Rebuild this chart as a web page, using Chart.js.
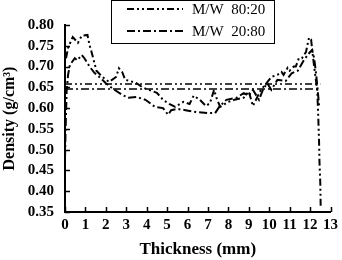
<!DOCTYPE html>
<html>
<head>
    <title>Density profile</title>
    <script src="https://cdn.jsdelivr.net/npm/chart.js"></script>
    <style>
        html, body { margin: 0; padding: 0; background: #fff; }
        #wrap { width: 342px; height: 260px; }
    </style>
</head>
<body>
    <div id="wrap"><canvas id="densityChart"></canvas></div>

    <script>
        // thickness (mm) / density (g/cm3)
        const thick8020 = [0.05, 0.15, 0.38, 0.63, 0.82, 1.1, 1.2, 1.3, 1.54, 1.83, 2.16, 2.5, 2.64, 2.8, 2.95, 3.2, 3.5, 3.8, 4.1, 4.5, 4.8, 5.1, 5.4, 5.8, 6.1, 6.3, 6.6, 6.9, 7.1, 7.3, 7.45, 7.6, 8.0, 8.3, 8.75, 9.0, 9.2, 9.4, 9.6, 9.8, 10.1, 10.4, 10.6, 10.7, 10.9, 11.0, 11.2, 11.3, 11.45, 11.6, 11.8, 11.95, 12.05, 12.15, 12.25, 12.35, 12.4, 12.44, 12.46, 12.5, 12.52];
        const dens8020 = [0.72, 0.745, 0.771, 0.757, 0.774, 0.776, 0.752, 0.735, 0.69, 0.675, 0.663, 0.675, 0.696, 0.687, 0.668, 0.665, 0.66, 0.65, 0.644, 0.637, 0.62, 0.61, 0.603, 0.615, 0.61, 0.63, 0.62, 0.605, 0.612, 0.644, 0.62, 0.603, 0.615, 0.62, 0.625, 0.64, 0.605, 0.625, 0.645, 0.656, 0.675, 0.68, 0.687, 0.68, 0.697, 0.69, 0.70, 0.70, 0.72, 0.72, 0.735, 0.77, 0.765, 0.72, 0.68, 0.645, 0.58, 0.52, 0.47, 0.42, 0.36];

        const thick2080 = [0.0, 0.03, 0.08, 0.15, 0.24, 0.48, 0.6, 0.82, 0.95, 1.2, 1.44, 1.68, 2.0, 2.3, 2.8, 3.1, 3.5, 3.94, 4.4, 4.8, 5.05, 5.2, 5.5, 5.9, 6.5, 7.1, 7.35, 7.55, 7.9, 8.4, 8.75, 9.0, 9.2, 9.5, 9.7, 9.9, 10.1, 10.4, 10.8, 11.1, 11.4, 11.7, 11.95, 12.1, 12.2, 12.3, 12.38, 12.45];
        const dens2080 = [0.48, 0.55, 0.64, 0.68, 0.704, 0.72, 0.715, 0.728, 0.72, 0.70, 0.685, 0.675, 0.66, 0.648, 0.632, 0.625, 0.627, 0.62, 0.603, 0.60, 0.584, 0.595, 0.598, 0.595, 0.59, 0.588, 0.588, 0.603, 0.62, 0.625, 0.636, 0.63, 0.644, 0.62, 0.645, 0.66, 0.644, 0.668, 0.665, 0.684, 0.69, 0.716, 0.732, 0.74, 0.72, 0.68, 0.64, 0.60];

        // mean density lines
        const avgRange = [0, 12.5];
        const avg8020 = 0.658;
        const avg2080 = 0.646;

        const seriesNames = ['M/W  80:20', 'M/W  20:80'];
        const dash8020 = [7, 3, 2, 3, 2, 3];
        const dash2080 = [8, 3, 2, 3];

        const toPoints = (xs, ys) => xs.map((x, i) => ({ x: x, y: ys[i] }));

        // inward tick marks, like the original plot
        const innerTicks = {
            id: 'innerTicks',
            afterDraw(chart) {
                const ctx = chart.ctx;
                const xs = chart.scales.x, ys = chart.scales.y;
                const area = chart.chartArea;
                ctx.save();
                ctx.strokeStyle = '#000';
                ctx.lineWidth = 1.5;
                ctx.beginPath();
                xs.ticks.forEach(t => {
                    const px = Math.round(xs.getPixelForValue(t.value)) + 0.5;
                    ctx.moveTo(px, area.bottom);
                    ctx.lineTo(px, area.bottom - 5);
                });
                ys.ticks.forEach(t => {
                    const py = Math.round(ys.getPixelForValue(t.value)) + 0.5;
                    ctx.moveTo(area.left, py);
                    ctx.lineTo(area.left + 5, py);
                });
                ctx.stroke();
                ctx.restore();
            }
        };

        // boxed legend sitting over the top of the plot
        const boxLegend = {
            id: 'boxLegend',
            afterDraw(chart) {
                const ctx = chart.ctx;
                ctx.save();
                ctx.fillStyle = '#fff';
                ctx.fillRect(111, 0, 163, 43);
                ctx.strokeStyle = '#000';
                ctx.lineWidth = 1;
                ctx.strokeRect(111.5, 0.5, 163, 43);
                const rows = [9, 31];
                [0, 1].forEach(i => {
                    const ds = chart.data.datasets[i];
                    ctx.setLineDash(ds.borderDash);
                    ctx.lineWidth = 2;
                    ctx.beginPath();
                    ctx.moveTo(127, rows[i]);
                    ctx.lineTo(183, rows[i]);
                    ctx.stroke();
                    ctx.setLineDash([]);
                    ctx.fillStyle = '#000';
                    ctx.font = '15px "Liberation Serif"';
                    ctx.textBaseline = 'middle';
                    ctx.textAlign = 'left';
                    ctx.fillText(seriesNames[i], 192, rows[i] + 1);
                });
                ctx.restore();
            }
        };

        const lineStyle = {
            showLine: true,
            pointRadius: 0,
            borderColor: '#000',
            backgroundColor: '#000',
            borderWidth: 2,
            tension: 0
        };

        new Chart(document.getElementById('densityChart'), {
            type: 'scatter',
            data: {
                datasets: [
                    Object.assign({ label: seriesNames[0], data: toPoints(thick8020, dens8020), borderDash: dash8020 }, lineStyle),
                    Object.assign({ label: seriesNames[1], data: toPoints(thick2080, dens2080), borderDash: dash2080 }, lineStyle),
                    Object.assign({ label: 'avg 80:20', data: toPoints(avgRange, [avg8020, avg8020]), borderDash: dash8020 }, lineStyle, { borderWidth: 1.5 }),
                    Object.assign({ label: 'avg 20:80', data: toPoints(avgRange, [avg2080, avg2080]), borderDash: dash2080 }, lineStyle, { borderWidth: 1.5 })
                ]
            },
            options: {
                responsive: true,
                maintainAspectRatio: false,
                animation: false,
                layout: { padding: { top: 25, right: 7, left: 0, bottom: 0 } },
                plugins: {
                    legend: { display: false },
                    tooltip: { enabled: false }
                },
                scales: {
                    x: {
                        type: 'linear',
                        min: 0,
                        max: 13,
                        grid: { display: false, drawTicks: false },
                        border: { display: true, color: '#000', width: 2 },
                        ticks: {
                            stepSize: 1,
                            autoSkip: false,
                            color: '#000',
                            padding: 4,
                            maxRotation: 0,
                            font: { family: 'Liberation Serif', size: 15, weight: 'bold' }
                        },
                        title: {
                            display: true,
                            text: 'Thickness (mm)',
                            color: '#000',
                            padding: { top: 4, bottom: 0 },
                            font: { family: 'Liberation Serif', size: 17, weight: 'bold' }
                        },
                        afterFit: s => { s.height = 48; }
                    },
                    y: {
                        min: 0.35,
                        max: 0.80,
                        grid: { display: false, drawTicks: false },
                        border: { display: true, color: '#000', width: 2 },
                        ticks: {
                            stepSize: 0.05,
                            autoSkip: false,
                            color: '#000',
                            padding: 11,
                            callback: v => v.toFixed(2),
                            font: { family: 'Liberation Serif', size: 15, weight: 'bold' }
                        },
                        title: {
                            display: true,
                            text: 'Density (g/cm³)',
                            color: '#000',
                            padding: { top: 0, bottom: 0 },
                            font: { family: 'Liberation Serif', size: 16, weight: 'bold' }
                        },
                        afterFit: s => { s.width = 65; }
                    }
                }
            },
            plugins: [innerTicks, boxLegend]
        });
    </script>
</body>
</html>
